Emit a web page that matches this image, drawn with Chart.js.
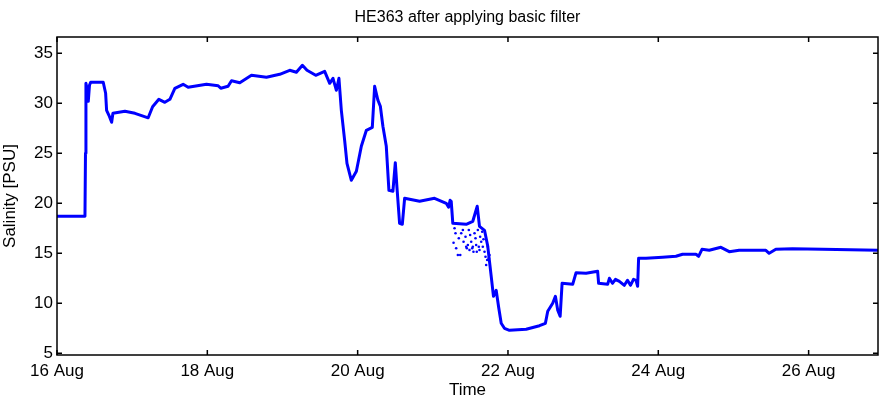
<!DOCTYPE html>
<html>
<head>
<meta charset="utf-8">
<script src="https://cdn.jsdelivr.net/npm/chart.js@4"></script>
<style>
html,body{margin:0;padding:0;background:#fff;}
#wrap{width:879px;height:403px;}
</style>
</head>
<body>
<div id="wrap"><canvas id="c" width="879" height="403"></canvas></div>
<script>
const titleText = "HE363 after applying basic filter";
const xTicks = [16, 18, 20, 22, 24, 26];
const yTicks = [5, 10, 15, 20, 25, 30, 35];

// time in days of August
const times = [
  16.0, 16.372, 16.379, 16.385, 16.399, 16.416, 16.432, 16.448, 16.615, 16.647,
  16.66, 16.691, 16.727, 16.744, 16.904, 17.037, 17.213, 17.272, 17.355, 17.435,
  17.502, 17.568, 17.678, 17.745, 17.989, 18.144, 18.179, 18.276, 18.322, 18.432,
  18.587, 18.787, 18.963, 19.096, 19.185, 19.265, 19.326, 19.442, 19.561, 19.628,
  19.672, 19.717, 19.751, 19.783, 19.827, 19.858, 19.916, 19.983, 20.049, 20.116,
  20.195, 20.226, 20.27, 20.302, 20.336, 20.381, 20.416, 20.469, 20.501, 20.522,
  20.558, 20.594, 20.625, 20.824, 21.023, 21.179, 21.21, 21.23, 21.245, 21.266,
  21.444, 21.532, 21.591, 21.621, 21.688, 21.731, 21.777, 21.807, 21.843, 21.878,
  21.91, 21.953, 22.02, 22.242, 22.419, 22.498, 22.529, 22.595, 22.631, 22.662,
  22.694, 22.72, 22.861, 22.906, 23.039, 23.193, 23.206, 23.326, 23.349, 23.39,
  23.43, 23.482, 23.548, 23.59, 23.63, 23.67, 23.704, 23.725, 23.738, 23.836,
  24.057, 24.235, 24.323, 24.501, 24.536, 24.581, 24.678, 24.833, 24.944, 25.076,
  25.431, 25.475, 25.564, 25.785, 26.183, 26.923
];
const salinity = [
  18.7, 18.7, 25.0, 32.0, 31.5, 30.2, 31.8, 32.1, 32.1, 31.0,
  29.3, 28.8, 28.1, 29.0, 29.2, 29.0, 28.55, 29.66, 30.4, 30.1,
  30.4, 31.5, 31.9, 31.6, 31.9, 31.76, 31.5, 31.7, 32.26, 32.06,
  32.8, 32.6, 32.9, 33.3, 33.1, 33.8, 33.3, 32.8, 33.2, 32.0,
  32.5, 31.3, 32.5, 29.3, 26.3, 24.0, 22.3, 23.2, 25.7, 27.3,
  27.6, 31.7, 30.3, 29.7, 27.7, 25.7, 21.3, 21.2, 24.06, 21.7,
  18.0, 17.9, 20.5, 20.2, 20.5, 20.0, 19.6, 20.3, 20.2, 18.0,
  17.9, 18.2, 19.7, 17.7, 17.3, 15.7, 12.7, 10.7, 11.3, 9.5,
  8.0, 7.5, 7.3, 7.4, 7.76, 8.0, 9.2, 10.0, 10.7, 9.3,
  8.7, 12.0, 11.9, 13.06, 13.0, 13.2, 12.0, 11.9, 12.5, 12.0,
  12.4, 12.2, 11.8, 12.3, 11.8, 12.4, 12.3, 11.7, 14.5, 14.5,
  14.6, 14.7, 14.9, 14.9, 14.7, 15.4, 15.3, 15.6, 15.16, 15.3,
  15.3, 15.0, 15.4, 15.46, 15.4, 15.3
];

// scattered outlier points near 21 Aug
const scatterTimes = [
  21.289, 21.302, 21.276, 21.311, 21.333, 21.365, 21.346, 21.378, 21.4, 21.409,
  21.435, 21.453, 21.466, 21.479, 21.488, 21.511, 21.497, 21.532, 21.541, 21.555,
  21.568, 21.577, 21.585, 21.599, 21.612, 21.621, 21.63, 21.644, 21.657, 21.665,
  21.674, 21.688, 21.701, 21.71, 21.723, 21.732, 21.745, 21.754, 21.444, 21.524
];
const scatterSal = [
  17.5, 17.0, 16.06, 15.5, 14.83, 14.83, 16.5, 17.0, 17.33, 16.16,
  16.66, 15.5, 15.83, 17.33, 15.33, 16.16, 16.83, 15.66, 15.16, 17.0,
  16.5, 15.83, 15.16, 17.33, 15.66, 15.33, 16.66, 16.16, 17.16, 15.66,
  16.4, 15.16, 14.66, 13.83, 14.33, 15.66, 14.5, 14.83, 15.66, 15.5
];

const lineData = times.map((t, i) => ({x: t, y: salinity[i]}));
const dotData = scatterTimes.map((t, i) => ({x: t, y: scatterSal[i]}));

const FONT = "'Liberation Sans', Arial, Helvetica, sans-serif";

const framePlugin = {
  id: 'frame',
  afterDraw(chart) {
    const ctx = chart.ctx;
    const a = chart.chartArea;
    const xs = chart.scales.x, ys = chart.scales.y;
    ctx.save();
    ctx.strokeStyle = '#000';
    ctx.lineWidth = 1.5;
    ctx.strokeRect(a.left, a.top, a.right - a.left, a.bottom - a.top);
    const L = 5;
    ctx.beginPath();
    xTicks.forEach(v => {
      const px = xs.getPixelForValue(v);
      ctx.moveTo(px, a.bottom); ctx.lineTo(px, a.bottom - L);
      ctx.moveTo(px, a.top); ctx.lineTo(px, a.top + L);
    });
    yTicks.forEach(v => {
      const py = ys.getPixelForValue(v);
      ctx.moveTo(a.left, py); ctx.lineTo(a.left + L, py);
      ctx.moveTo(a.right, py); ctx.lineTo(a.right - L, py);
    });
    ctx.stroke();
    ctx.fillStyle = '#000';
    ctx.font = '16px ' + FONT;
    ctx.textAlign = 'center';
    ctx.textBaseline = 'middle';
    ctx.fillText(titleText, (a.left + a.right) / 2, 18);
    ctx.restore();
  }
};

new Chart(document.getElementById('c'), {
  type: 'scatter',
  data: {
    datasets: [
      {
        data: lineData,
        showLine: true,
        borderColor: '#0000ff',
        backgroundColor: '#0000ff',
        borderWidth: 3,
        pointRadius: 0,
        pointHoverRadius: 0,
        tension: 0,
        borderJoinStyle: 'round'
      },
      {
        data: dotData,
        showLine: false,
        borderColor: '#0000ff',
        backgroundColor: '#0000ff',
        pointRadius: 1.3,
        pointHoverRadius: 0,
        borderWidth: 0
      }
    ]
  },
  options: {
    responsive: false,
    animation: false,
    devicePixelRatio: 1,
    layout: { autoPadding: false, padding: { top: 37, right: 1, left: 0, bottom: 0 } },
    plugins: { legend: { display: false }, tooltip: { enabled: false }, title: { display: false } },
    scales: {
      x: {
        type: 'linear',
        min: 16,
        max: 26.923,
        afterBuildTicks(scale) { scale.ticks = xTicks.map(v => ({value: v})); },
        afterFit(scale) { scale.height = 48; scale.paddingRight = 0; },
        grid: { display: false, drawTicks: false },
        border: { display: false },
        ticks: {
          color: '#000',
          padding: 6,
          maxRotation: 0,
          autoSkip: false,
          font: { family: FONT, size: 17 },
          callback: v => v + ' Aug'
        },
        title: {
          display: true,
          text: 'Time',
          color: '#000',
          font: { family: FONT, size: 17 },
          padding: { top: 0, bottom: 2 }
        }
      },
      y: {
        type: 'linear',
        min: 4.83,
        max: 36.63,
        afterBuildTicks(scale) { scale.ticks = yTicks.map(v => ({value: v})); },
        afterFit(scale) { scale.width = 57; },
        grid: { display: false, drawTicks: false },
        border: { display: false },
        ticks: {
          color: '#000',
          padding: 4,
          autoSkip: false,
          font: { family: FONT, size: 17 }
        },
        title: {
          display: true,
          text: 'Salinity [PSU]',
          color: '#000',
          font: { family: FONT, size: 17 },
          padding: { top: 0, bottom: 0 }
        }
      }
    }
  },
  plugins: [framePlugin]
});
</script>
</body>
</html>
